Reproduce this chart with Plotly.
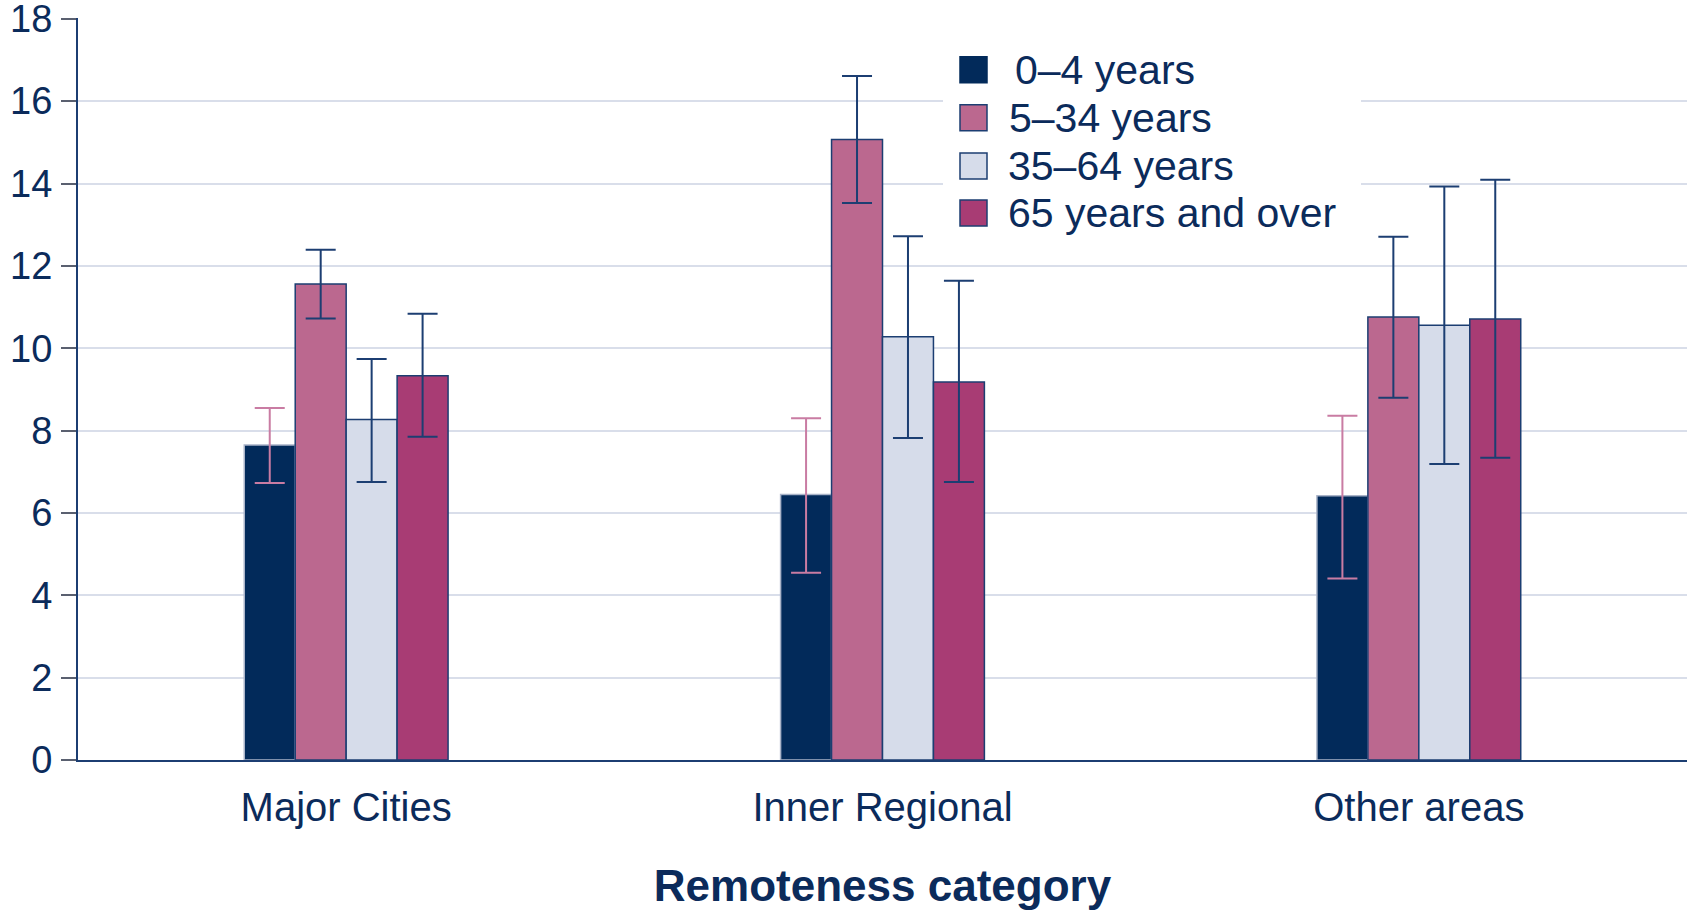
import plotly.graph_objects as go

categories = ["Major Cities", "Inner Regional", "Other areas"]
series_names = ["0–4 years", "5–34 years", "35–64 years", "65 years and over"]

values_0_4 = [7.65, 6.45, 6.42]
values_5_34 = [11.56, 15.07, 10.76]
values_35_64 = [8.27, 10.28, 10.56]
values_65_over = [9.33, 9.18, 10.71]

upper_0_4 = [8.55, 8.30, 8.36]
upper_5_34 = [12.39, 16.61, 12.71]
upper_35_64 = [9.74, 12.72, 13.93]
upper_65_over = [10.84, 11.64, 14.09]

lower_0_4 = [6.73, 4.55, 4.41]
lower_5_34 = [10.72, 13.53, 8.80]
lower_35_64 = [6.75, 7.82, 7.19]
lower_65_over = [7.85, 6.75, 7.34]

y_ticks = [0, 2, 4, 6, 8, 10, 12, 14, 16, 18]

NAVY = "#0b2b5b"
fills = ["#022a5a", "#bb688f", "#d6dcea", "#a83c74"]
err_colors = ["#c97ca3", "#1c3e72", "#1c3e72", "#1c3e72"]
FONT = "Liberation Sans, Arial, sans-serif"

W, H = 1690, 915
ML, MR, MT, MB = 78, 3, 18, 155

series_vals = [values_0_4, values_5_34, values_35_64, values_65_over]
series_up = [upper_0_4, upper_5_34, upper_35_64, upper_65_over]
series_lo = [lower_0_4, lower_5_34, lower_35_64, lower_65_over]

fig = go.Figure()
for i, name in enumerate(series_names):
    v = series_vals[i]
    up = [u - a for u, a in zip(series_up[i], v)]
    lo = [a - l for a, l in zip(v, series_lo[i])]
    fig.add_trace(go.Bar(
        x=categories, y=v, name=name, showlegend=False,
        marker=dict(color=fills[i], line=dict(color="#1c3e72" if i else "#a9b3c8", width=1.5)),
        error_y=dict(type="data", symmetric=False, array=up, arrayminus=lo,
                     color=err_colors[i], thickness=2, width=15),
    ))

fig.update_layout(
    width=W, height=H,
    margin=dict(l=ML, r=MR, t=MT, b=MB, autoexpand=False),
    paper_bgcolor="white", plot_bgcolor="white",
    barmode="group", bargap=0.62, bargroupgap=0,
    font=dict(family=FONT, color=NAVY, size=39),
    xaxis=dict(
        automargin=False,
        showline=True, linecolor="#1c3e72", linewidth=2, ticks="",
        tickfont=dict(size=40, color=NAVY), ticklabelstandoff=11,
        title=dict(text="<b>Remoteness category</b>", font=dict(size=44, color=NAVY), standoff=42),
        showgrid=False,
    ),
    yaxis=dict(
        automargin=False,
        range=[0, 18.02], tickvals=y_ticks, showline=True, linecolor="#1c3e72", linewidth=2,
        ticks="outside", ticklen=15, tickcolor="#5a6070", tickwidth=1.5,
        tickfont=dict(size=38, color=NAVY), ticklabelstandoff=1, ticklabeloverflow="allow",
        showgrid=True, gridcolor="#d9deea", gridwidth=2, zeroline=False,
    ),
)

# manual legend (pixel positions converted to paper coordinates)
PW = W - ML - MR
PH = H - MT - MB
def px(x):
    return (x - ML) / PW
def py(y):
    return 1 - (y - MT) / PH

shapes = [dict(type="rect", xref="paper", yref="paper", x0=px(943), x1=px(1361),
               y0=py(240), y1=py(28), fillcolor="white", line=dict(width=0), layer="above")]
row_centers = [69.7, 117.8, 166, 213]
text_x = [1013, 1007, 1006, 1006]
annotations = []
for i, name in enumerate(series_names):
    cy = row_centers[i]
    shapes.append(dict(type="rect", xref="paper", yref="paper",
                       x0=px(960), x1=px(987), y0=py(cy + 13), y1=py(cy - 13),
                       fillcolor=fills[i],
                       line=dict(color="#1c3e72" if i else fills[0], width=1.5), layer="above"))
    annotations.append(dict(xref="paper", yref="paper", x=px(text_x[i]), y=py(cy),
                            xanchor="left", yanchor="middle", text=name, showarrow=False,
                            font=dict(size=41, color=NAVY, family=FONT)))
fig.update_layout(shapes=shapes, annotations=annotations)

fig.write_html("out.html", config={"displayModeBar": False},
               post_script="document.body.style.margin='0px';document.body.style.overflow='hidden';")
